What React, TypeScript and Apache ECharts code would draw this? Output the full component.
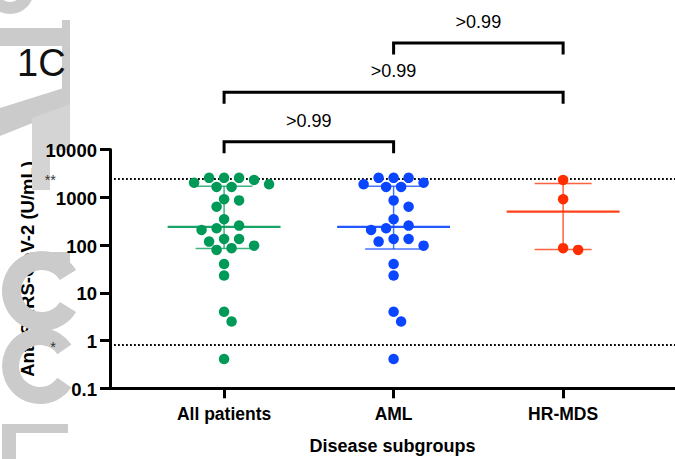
import React, { useEffect, useRef } from 'react';
import * as echarts from 'echarts';

// ---------- data ----------
const categories = ['All patients', 'AML', 'HR-MDS'];
const amlValues = [2550, 2550, 2550, 2020, 1870, 1640, 1640, 860, 635, 347, 255, 224, 207, 134, 134, 118, 97, 40, 23, 4.0, 2.5, 0.41];
const hrMdsValues = [2300, 910, 86, 79];
const allPatientsValues = [...amlValues, ...hrMdsValues];
const groupValues = [allPatientsValues, amlValues, hrMdsValues];
const groupColors = ['#009a58', '#0a46ff', '#ff2d00'];
const yTickValues = [0.1, 1, 10, 100, 1000, 10000];
const yTickLabels = ['0.1', '1', '10', '100', '1000', '10000'];
const thresholds = [2500, 0.8];
const thresholdMarks = ['**', '*'];
const comparisons = [
  { from: 0, to: 1, label: '>0.99' },
  { from: 0, to: 2, label: '>0.99' },
  { from: 1, to: 2, label: '>0.99' },
];
const xAxisTitle = 'Disease subgroups';
const yAxisTitle = 'Anti-SARS-CoV-2 (U/mL)';
const panelLabel = '1C';

// ---------- layout ----------
const W = 675;
const H = 459;
const GRID_LEFT = 110;
const GRID_RIGHT = 0;
const GRID_TOP = 149.5;
const GRID_BOTTOM = 70.7;
const X_MIN = -0.673;
const X_MAX = 2.66;
const Y_MIN = 0.1;
const Y_MAX = 10000;
const FONT = '"Liberation Sans", Arial, Helvetica, sans-serif';
const DOT = 10.5;
const STEP = 7.5;
const MED_HALF = 0.333;
const BAR_HALF = 0.168;

const plotW = W - GRID_LEFT - GRID_RIGHT;
const plotH = H - GRID_TOP - GRID_BOTTOM;
const pxPerX = plotW / (X_MAX - X_MIN);
const pxPerDec = plotH / (Math.log10(Y_MAX) - Math.log10(Y_MIN));

function percentile(vals: number[], p: number) {
  const s = [...vals].sort((a, b) => a - b);
  const n = s.length;
  const pos = p * (n + 1);
  if (pos <= 1) return s[0];
  if (pos >= n) return s[n - 1];
  const lo = Math.floor(pos);
  const f = pos - lo;
  return s[lo - 1] + f * (s[lo] - s[lo - 1]);
}

function beeswarm(values: number[], center: number) {
  const pts = values
    .map((v) => ({ v, py: (Math.log10(Y_MAX) - Math.log10(v)) * pxPerDec }))
    .sort((a, b) => a.py - b.py);
  const placed: { v: number; py: number; off: number }[] = [];
  for (const p of pts) {
    for (let k = 0; k < 80; k++) {
      const off = (k % 2 === 1 ? 1 : -1) * Math.ceil(k / 2) * STEP;
      let ok = true;
      for (const q of placed) {
        const dx = off - q.off;
        const dy = p.py - q.py;
        if (dx * dx + dy * dy < DOT * DOT - 0.01) {
          ok = false;
          break;
        }
      }
      if (ok) {
        placed.push({ ...p, off });
        break;
      }
    }
  }
  return placed.map((p) => [center + p.off / pxPerX, p.v]);
}

export default function App() {
  const ref = useRef<HTMLDivElement>(null);
  useEffect(() => {
    if (!ref.current) return;
    const chart = echarts.init(ref.current, undefined, { renderer: 'svg', width: W, height: H });

    const stats = groupValues.map((vals, i) => [i, percentile(vals, 0.25), percentile(vals, 0.5), percentile(vals, 0.75)]);

    const scatterSeries: any[] = groupValues.map((vals, i) => ({
      type: 'scatter',
      name: categories[i],
      data: beeswarm(vals, i),
      symbol: 'circle',
      symbolSize: DOT,
      itemStyle: { color: groupColors[i], opacity: 1 },
      z: 4,
      silent: true,
    }));
    scatterSeries[0].markLine = {
      silent: true,
      symbol: 'none',
      label: { show: false },
      lineStyle: { color: '#000', type: [1.8, 2.2], width: 1.8 },
      data: thresholds.map((t) => ({ yAxis: t })),
      z: 1,
    };

    const option: any = {
      animation: false,
      backgroundColor: '#fff',
      grid: { left: GRID_LEFT, right: GRID_RIGHT, top: GRID_TOP, bottom: GRID_BOTTOM, containLabel: false, outerBoundsMode: 'none' },
      xAxis: {
        type: 'value',
        min: X_MIN,
        max: X_MAX,
        axisLine: { show: true, onZero: false, lineStyle: { color: '#000', width: 3 } },
        axisTick: { show: true, customValues: [0, 1, 2], length: 10, lineStyle: { color: '#000', width: 3 } },
        axisLabel: {
          customValues: [0, 1, 2],
          formatter: (v: number) => categories[Math.round(v)] ?? '',
          fontSize: 17.5,
          fontWeight: 'bold',
          color: '#000',
          fontFamily: FONT,
          margin: 17,
        },
        splitLine: { show: false },
        name: xAxisTitle,
        nameLocation: 'middle',
        nameGap: 49,
        nameTextStyle: { fontSize: 18, fontWeight: 'bold', color: '#000', fontFamily: FONT },
      },
      yAxis: {
        type: 'log',
        logBase: 10,
        min: Y_MIN,
        max: Y_MAX,
        axisLine: { show: true, onZero: false, lineStyle: { color: '#000', width: 3 } },
        axisTick: { show: true, length: 10, lineStyle: { color: '#000', width: 3 } },
        minorTick: { show: false },
        axisLabel: { show: false },
        splitLine: { show: false },
      },
      series: [
        {
          type: 'custom',
          z: 2,
          silent: true,
          data: stats,
          encode: { x: 0, y: [1, 2, 3] },
          renderItem: (params: any, api: any) => {
            const x = api.value(0);
            const q1 = api.value(1);
            const med = api.value(2);
            const q3 = api.value(3);
            const color = groupColors[params.dataIndex];
            const a = api.coord([x - MED_HALF, med]);
            const b = api.coord([x + MED_HALF, med]);
            const c1 = api.coord([x - BAR_HALF, q3]);
            const c2 = api.coord([x + BAR_HALF, q3]);
            const d1 = api.coord([x - BAR_HALF, q1]);
            const d2 = api.coord([x + BAR_HALF, q1]);
            const v1 = api.coord([x, q3]);
            const v2 = api.coord([x, q1]);
            const thin = { stroke: color, lineWidth: 1.5, opacity: 0.75 };
            return {
              type: 'group',
              children: [
                { type: 'line', shape: { x1: v1[0], y1: v1[1], x2: v2[0], y2: v2[1] }, style: thin },
                { type: 'line', shape: { x1: c1[0], y1: c1[1], x2: c2[0], y2: c2[1] }, style: thin },
                { type: 'line', shape: { x1: d1[0], y1: d1[1], x2: d2[0], y2: d2[1] }, style: thin },
                { type: 'line', shape: { x1: a[0], y1: a[1], x2: b[0], y2: b[1] }, style: { stroke: color, lineWidth: 2.2, opacity: 0.9 } },
              ],
            };
          },
        },
        ...scatterSeries,
      ],
    };
    chart.setOption(option);

    // annotations positioned through the chart's own scales
    const catPx = categories.map((_, i) => chart.convertToPixel({ gridIndex: 0 }, [i, 1])[0]);
    const thrPx = thresholds.map((t) => chart.convertToPixel({ gridIndex: 0 }, [0, t])[1]);
    const tickPx = yTickValues.map((t) => chart.convertToPixel({ gridIndex: 0 }, [0, t])[1]);
    const bracketBase = GRID_TOP - 7.8;
    const bracketGap = 49.4;
    const leg = 11.5;
    const graphics: any[] = [];

    // y axis title (under the watermark)
    graphics.push({
      type: 'text',
      x: 27,
      y: GRID_TOP + plotH / 2,
      rotation: Math.PI / 2,
      z: -20,
      style: { text: yAxisTitle, fontSize: 18.5, fontWeight: 'bold', fill: '#000', fontFamily: FONT, align: 'center', verticalAlign: 'middle' },
    });

    // watermark fragments
    const wm = { fill: '#cbcbcb' };
    const wmz = -10;
    graphics.push(
      { type: 'sector', z: wmz, shape: { cx: 10, cy: -10, r: 24, r0: 12, startAngle: 0, endAngle: Math.PI, clockwise: true }, style: wm },
      { type: 'rect', z: wmz, shape: { x: 0, y: 28, width: 70, height: 18 }, style: wm },
      { type: 'rect', z: wmz, shape: { x: 62, y: 20, width: 8, height: 95 }, style: wm },
      { type: 'polygon', z: wmz, shape: { points: [[0, 108], [70, 86], [70, 108], [0, 136]] }, style: wm },
      { type: 'polygon', z: wmz, shape: { points: [[32, 118], [70, 104], [70, 150], [50, 150], [50, 190], [32, 190]] }, style: { fill: '#d4d4d4' } },
      { type: 'sector', z: wmz, shape: { cx: 42, cy: 291, r: 40, r0: 21, startAngle: 0.55, endAngle: Math.PI * 2 - 0.55, clockwise: true }, style: wm },
      { type: 'rect', z: wmz, shape: { x: 30, y: 252, width: 40, height: 18 }, style: wm },
      { type: 'sector', z: wmz, shape: { cx: 40, cy: 366, r: 38, r0: 21, startAngle: 0.6, endAngle: Math.PI * 2 - 0.6, clockwise: true }, style: wm },
      { type: 'rect', z: wmz, shape: { x: 2, y: 426, width: 14, height: 33 }, style: wm },
      { type: 'rect', z: wmz, shape: { x: 2, y: 424, width: 66, height: 9 }, style: wm },
    );

    // y tick labels
    yTickLabels.forEach((lab, i) => {
      graphics.push({
        type: 'text',
        x: GRID_LEFT - 13,
        y: tickPx[i] + 1,
        z: 10,
        style: { text: lab, fontSize: 18.5, fontWeight: 'bold', fill: '#000', fontFamily: FONT, align: 'right', verticalAlign: 'middle' },
      });
    });

    // panel label
    graphics.push({
      type: 'text',
      x: 17,
      y: 63,
      z: 10,
      style: { text: panelLabel, fontSize: 38, fill: '#111', fontFamily: FONT, align: 'left', verticalAlign: 'middle' },
    });

    // threshold asterisks
    thresholds.forEach((_, i) => {
      graphics.push({
        type: 'text',
        x: 56,
        y: thrPx[i] + 2,
        z: 10,
        style: { text: thresholdMarks[i], fontSize: 14.5, fill: '#333', fontFamily: FONT, align: 'right', verticalAlign: 'middle' },
      });
    });

    // comparison brackets
    comparisons.forEach((cmp, level) => {
      const y = bracketBase - level * bracketGap;
      const x1 = catPx[cmp.from];
      const x2 = catPx[cmp.to];
      graphics.push({
        type: 'polyline',
        z: 10,
        shape: { points: [[x1, y + leg], [x1, y], [x2, y], [x2, y + leg]] },
        style: { stroke: '#000', lineWidth: 3, fill: 'none' },
      });
      graphics.push({
        type: 'text',
        x: (x1 + x2) / 2,
        y: y - 21,
        z: 10,
        style: { text: cmp.label, fontSize: 18, fill: '#000', fontFamily: FONT, align: 'center', verticalAlign: 'middle' },
      });
    });

    chart.setOption({ graphic: { elements: graphics } });

    return () => chart.dispose();
  }, []);

  return <div ref={ref} style={{ position: 'fixed', left: 0, top: 0, width: W, height: H, background: '#fff' }} />;
}
